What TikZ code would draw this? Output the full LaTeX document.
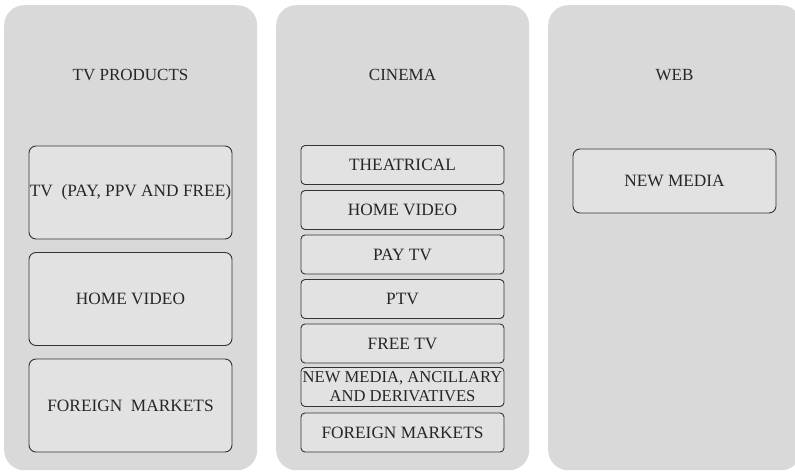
\documentclass[tikz,border=0pt]{standalone}
\usepackage{fontspec}
\setmainfont{Liberation Serif}
\usetikzlibrary{positioning}

\definecolor{panelgrey}{HTML}{D9D9D9}
\definecolor{boxgrey}{HTML}{E2E2E2}
\definecolor{linegrey}{HTML}{333333}
\definecolor{textgrey}{HTML}{262626}

\begin{document}
\begin{tikzpicture}[x=1pt, y=-1pt,
    panel/.style={fill=panelgrey, draw=none, rounded corners=20pt, minimum width=253pt, minimum height=465pt, anchor=north west},
    title/.style={text=textgrey, font=\fontsize{17}{19}\selectfont},
    bigbox/.style={draw=linegrey, fill=boxgrey, line width=0.9pt, rounded corners=7pt, minimum width=203pt, minimum height=93pt, inner sep=0pt, align=center, text=textgrey, font=\fontsize{17.3}{19}\selectfont},
    smallbox/.style={draw=linegrey, fill=boxgrey, line width=0.9pt, rounded corners=4pt, minimum width=203pt, minimum height=39pt, inner sep=0pt, align=center, text=textgrey, font=\fontsize{17.3}{19.5}\selectfont}]
    \useasboundingbox (0,0) rectangle (795,473);

    % three panels
    \node[panel] (tvpanel) at (4,5) {};
    \node[panel] (cinemapanel) at (276,5) {};
    \node[panel] (webpanel) at (548,5) {};

    \node[title] (tvtitle) at (130.5,75) {TV PRODUCTS};
    \node[title] (cinematitle) at (402.5,75) {CINEMA};
    \node[title] (webtitle) at (674.5,75) {WEB};

    % tv products
    \node[bigbox] (tv) at (130.5,192.5) {\makebox[200pt]{TV\ \ (PAY, PPV AND FREE)}};
    \node[bigbox] (tvhome) at (130.5,299) {HOME VIDEO};
    \node[bigbox] (tvforeign) at (130.5,405.5) {FOREIGN\ \ MARKETS};

    % cinema
    \node[smallbox] (theatrical) at (402.5,165) {THEATRICAL};
    \node[smallbox] (cinhome) at (402.5,210) {HOME VIDEO};
    \node[smallbox] (paytv) at (402.5,254.5) {PAY TV};
    \node[smallbox] (ptv) at (402.5,299) {PTV};
    \node[smallbox] (freetv) at (402.5,343.5) {FREE TV};
    \node[smallbox, font=\fontsize{16.6}{19}\selectfont] (newmedia) at (402.5,387) {\makebox[200pt]{NEW MEDIA, ANCILLARY}\\AND DERIVATIVES};
    \node[smallbox] (cinforeign) at (402.5,432.5) {FOREIGN MARKETS};

    % web
    \node[bigbox, minimum height=64pt] (webmedia) at (674.5,181) {NEW MEDIA};
\end{tikzpicture}
\end{document}
